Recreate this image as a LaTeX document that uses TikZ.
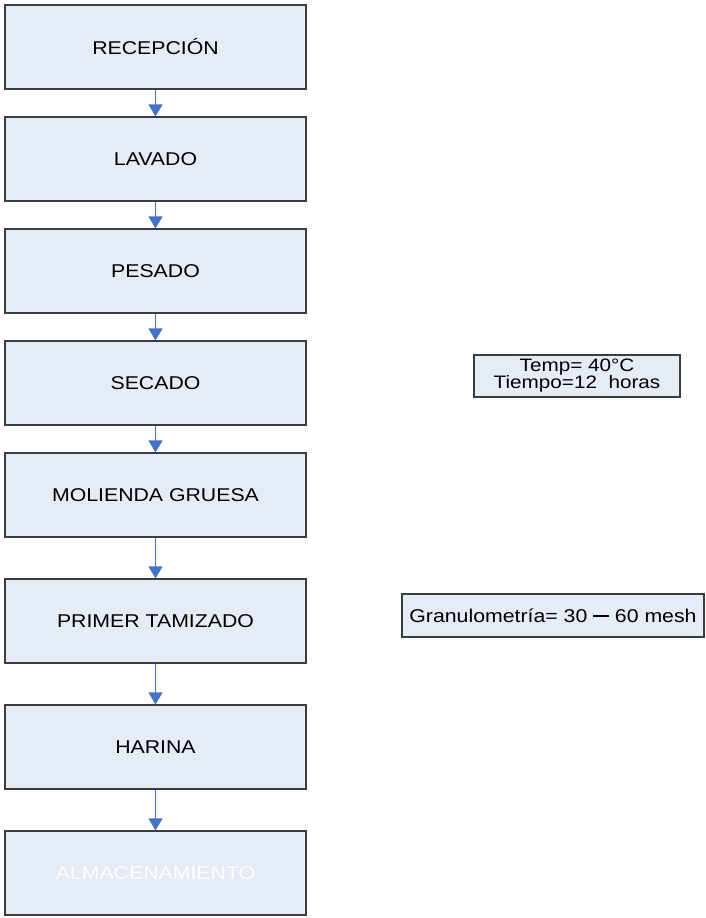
\documentclass[tikz,border=0pt]{standalone}
\usepackage{fontspec}
\setmainfont{Liberation Sans}[FakeStretch=1.15]
\usetikzlibrary{arrows.meta}
\definecolor{boxfill}{HTML}{E6ECF6}
\definecolor{boxdraw}{HTML}{3C3C3C}
\definecolor{arrowblue}{HTML}{4472C4}
\newcommand{\thickdash}{\rule[0.26em]{0.85em}{0.13em}}
\begin{document}
\begin{tikzpicture}[x=1pt,y=-1pt,
  stepbox/.style={draw=boxdraw,fill=boxfill,line width=1.2pt,minimum width=301pt,minimum height=84pt,inner sep=0pt,font=\fontsize{18.5}{21}\selectfont},
  notebox/.style={draw=boxdraw,fill=boxfill,line width=1.2pt,inner sep=0pt,align=center},
  flow/.style={draw=arrowblue,line width=1.3pt,-{Triangle[width=14pt,length=12pt]},color=arrowblue}]
\useasboundingbox (0,0) rectangle (705,918);
\fill[white] (0,0) rectangle (705,918);
\node[stepbox] (n1) at (155.5,47) {RECEPCIÓN};
\node[stepbox] (n2) at (155.5,159) {LAVADO};
\node[stepbox] (n3) at (155.5,271) {PESADO};
\node[stepbox] (n4) at (155.5,383) {SECADO};
\node[stepbox] (n5) at (155.5,495) {MOLIENDA GRUESA};
\node[stepbox] (n6) at (155.5,621) {PRIMER TAMIZADO};
\node[stepbox] (n7) at (155.5,747) {HARINA};
\node[stepbox,text=white] (n8) at (155.5,873) {ALMACENAMIENTO};
\node[notebox,minimum width=206pt,minimum height=42pt,font=\fontsize{18}{17}\selectfont] (t1) at (577,376) {Temp= 40°C\\Tiempo=12\ \ horas};
\node[notebox,minimum width=302pt,minimum height=43pt,font=\fontsize{18.5}{18}\selectfont] (t2) at (553,615.5) {Granulometría= 30 \thickdash\ 60 mesh};
\draw[flow] (n1) -- (n2);
\draw[flow] (n2) -- (n3);
\draw[flow] (n3) -- (n4);
\draw[flow] (n4) -- (n5);
\draw[flow] (n5) -- (n6);
\draw[flow] (n6) -- (n7);
\draw[flow] (n7) -- (n8);
\end{tikzpicture}
\end{document}
